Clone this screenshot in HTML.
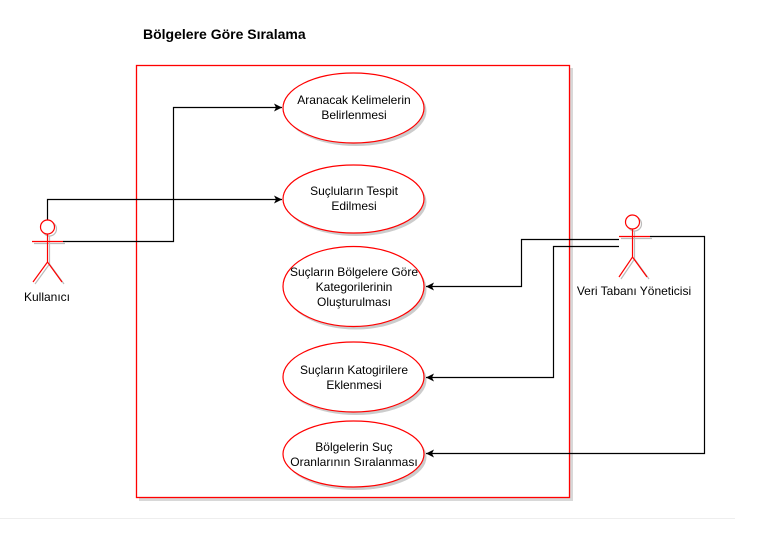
<!DOCTYPE html>
<html><head><meta charset="utf-8"><style>
html,body{margin:0;padding:0;background:#fff;width:761px;height:555px;overflow:hidden}
text{font-family:"Liberation Sans",Arial,sans-serif;font-size:12px;fill:#000}
</style></head><body>
<svg width="761" height="555" viewBox="0 0 761 555" xmlns="http://www.w3.org/2000/svg">
<defs>
<marker id="a" markerWidth="10" markerHeight="10" refX="8" refY="5" orient="auto" markerUnits="userSpaceOnUse">
<path d="M0,1 L8,5 L0,9 L2,5 Z" fill="#000"/></marker>
</defs>
<line x1="0" y1="518.5" x2="735" y2="518.5" stroke="#eee" stroke-width="1"/>
<text x="143" y="39" style="font-weight:bold;font-size:14px">Bölgelere Göre Sıralama</text>
<rect x="139" y="68" width="434" height="433" fill="#d8d8d8"/>
<rect x="136.5" y="65.5" width="433" height="432" fill="#fff" stroke="#f00" stroke-width="1.3"/>
<g fill="#fff" stroke="#f00" stroke-width="1.2">
<ellipse cx="356" cy="111" rx="70.5" ry="35" fill="#ccc" stroke="none"/>
<ellipse cx="353.5" cy="108" rx="70.5" ry="35"/>
<ellipse cx="356" cy="202" rx="70.5" ry="34" fill="#ccc" stroke="none"/>
<ellipse cx="353.5" cy="199" rx="70.5" ry="34"/>
<ellipse cx="356" cy="289.5" rx="70.5" ry="40" fill="#ccc" stroke="none"/>
<ellipse cx="353.5" cy="286.5" rx="70.5" ry="40"/>
<ellipse cx="356" cy="380" rx="70.5" ry="35" fill="#ccc" stroke="none"/>
<ellipse cx="353.5" cy="377" rx="70.5" ry="35"/>
<ellipse cx="356" cy="457" rx="70.5" ry="33" fill="#ccc" stroke="none"/>
<ellipse cx="353.5" cy="454" rx="70.5" ry="33"/>
</g>
<g text-anchor="middle">
<text x="354" y="104">Aranacak Kelimelerin</text><text x="354" y="119">Belirlenmesi</text>
<text x="354" y="195">Suçluların Tespit</text><text x="354" y="210">Edilmesi</text>
<text x="354" y="276">Suçların Bölgelere  Göre</text><text x="354" y="291">Kategorilerinin</text><text x="354" y="306">Oluşturulması</text>
<text x="354" y="374">Suçların Katogirilere</text><text x="354" y="389">Eklenmesi</text>
<text x="354" y="451">Bölgelerin Suç</text><text x="354" y="466">Oranlarının Sıralanması</text>
</g>
<g fill="none" stroke="#000" stroke-width="1.2">
<polyline points="47.5,220 47.5,199.5 282,199.5" marker-end="url(#a)"/>
<polyline points="63,241.5 173.5,241.5 173.5,107.5 282,107.5" marker-end="url(#a)"/>
<polyline points="650,236.5 704.5,236.5 704.5,453.5 426,453.5" marker-end="url(#a)"/>
<polyline points="619,239.5 521.5,239.5 521.5,286.5 426,286.5" marker-end="url(#a)"/>
<polyline points="619,246.5 553.5,246.5 553.5,377.5 426,377.5" marker-end="url(#a)"/>
</g>
<g fill="none" stroke-width="1.2">
<g stroke="#bbb" transform="translate(2,2)">
<circle cx="47.5" cy="227" r="7"/><line x1="32" y1="241.5" x2="63" y2="241.5"/><line x1="47.5" y1="234" x2="47.5" y2="262"/><polyline points="33,282 47.5,262 62,282"/></g>
<g stroke="#f00">
<circle cx="47.5" cy="227" r="7" fill="#fff"/><line x1="32" y1="241.5" x2="63" y2="241.5"/><line x1="47.5" y1="234" x2="47.5" y2="262"/><polyline points="33,282 47.5,262 62,282"/></g>
<g stroke="#bbb" transform="translate(2,2)">
<circle cx="632.5" cy="222" r="7"/><line x1="619" y1="236.5" x2="650" y2="236.5"/><line x1="632.5" y1="229" x2="632.5" y2="257"/><polyline points="619,277 632.5,257 647,277"/></g>
<g stroke="#f00">
<circle cx="632.5" cy="222" r="7" fill="#fff"/><line x1="619" y1="236.5" x2="650" y2="236.5"/><line x1="632.5" y1="229" x2="632.5" y2="257"/><polyline points="619,277 632.5,257 647,277"/></g>
</g>
<text x="47" y="301" text-anchor="middle">Kullanıcı</text>
<text x="634" y="295" text-anchor="middle">Veri Tabanı Yöneticisi</text>
</svg>
</body></html>
